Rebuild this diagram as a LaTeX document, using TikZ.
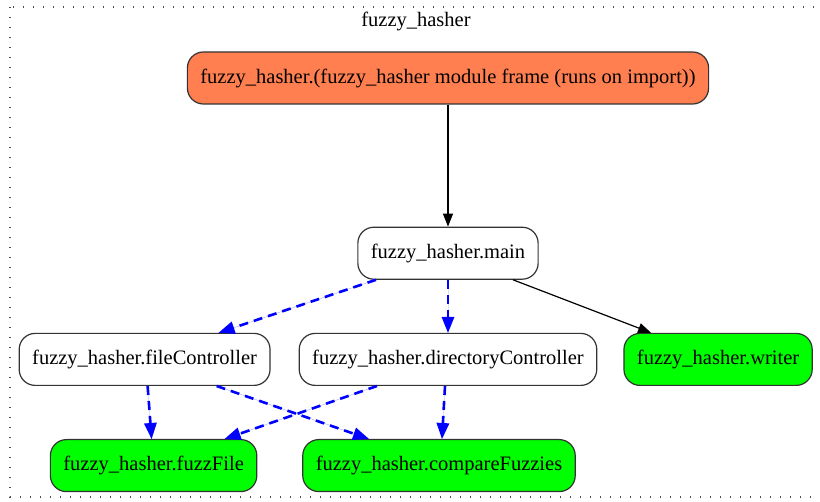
\documentclass[tikz,border=0pt]{standalone}
\usepackage{fontspec}
\setmainfont{Liberation Serif}
\usetikzlibrary{positioning, arrows.meta}

\definecolor{framecol}{HTML}{FF7F50}
\definecolor{leafgreen}{HTML}{00FF00}

\begin{document}
\begin{tikzpicture}[x=1pt, y=-1pt, >={Triangle[length=13pt,width=10pt]},
    fn/.style={draw=black!80, line width=1.2pt, rounded corners=16pt, fill=white,
      minimum height=52pt, inner xsep=13pt, font=\fontsize{20.5}{24}\selectfont},
    leaf/.style={fn, fill=leafgreen},
    uses/.style={-{Triangle[length=16pt,width=13pt,line width=0pt]}, draw=blue, fill=blue, line width=2.6pt, dash pattern=on 9pt off 6pt},
    calls/.style={->, line width=1.2pt}]
    \clip (0,0) rectangle (820,502);
    \useasboundingbox (0,0) rectangle (820,502);
    % module cluster
    \draw[black!70, line width=1.3pt, dash pattern=on 1.4pt off 8.6pt] (10,7) rectangle (822,497);
    \node[font=\fontsize{20.5}{24}\selectfont] (title) at (416,22) {fuzzy\_hasher};

    \node[fn, fill=framecol] (frame) at (448,78) {fuzzy\_hasher.(fuzzy\_hasher module frame (runs on import))};
    \node[fn] (main) [below=122pt of frame] {fuzzy\_hasher.main};

    \node[fn] (dirCtrl) [below=53pt of main] {fuzzy\_hasher.directoryController};
    \node[fn] (fileCtrl) [left=28pt of dirCtrl] {fuzzy\_hasher.fileController};
    \node[leaf] (writer) [right=26pt of dirCtrl] {fuzzy\_hasher.writer};

    \node[leaf] (fuzzFile) [below=53pt of fileCtrl, xshift=9pt] {fuzzy\_hasher.fuzzFile};
    \node[leaf] (compare) [below=53pt of dirCtrl, xshift=-9pt] {fuzzy\_hasher.compareFuzzies};

    \draw[calls] (frame.south) -- (main.north);
    \draw[calls] ([xshift=65pt]main.south) -- ([xshift=-67pt]writer.north);
    \draw[uses] ([xshift=-72pt]main.south) -- ([xshift=74pt]fileCtrl.north);
    \draw[uses] (main.south) -- (dirCtrl.north);
    \draw[uses] ([xshift=3pt]fileCtrl.south) -- ([xshift=-2pt]fuzzFile.north);
    \draw[uses] ([xshift=72pt]fileCtrl.south) -- ([xshift=-70pt]compare.north);
    \draw[uses] ([xshift=-71pt]dirCtrl.south) -- ([xshift=71pt]fuzzFile.north);
    \draw[uses] ([xshift=-3pt]dirCtrl.south) -- ([xshift=3pt]compare.north);
\end{tikzpicture}
\end{document}
